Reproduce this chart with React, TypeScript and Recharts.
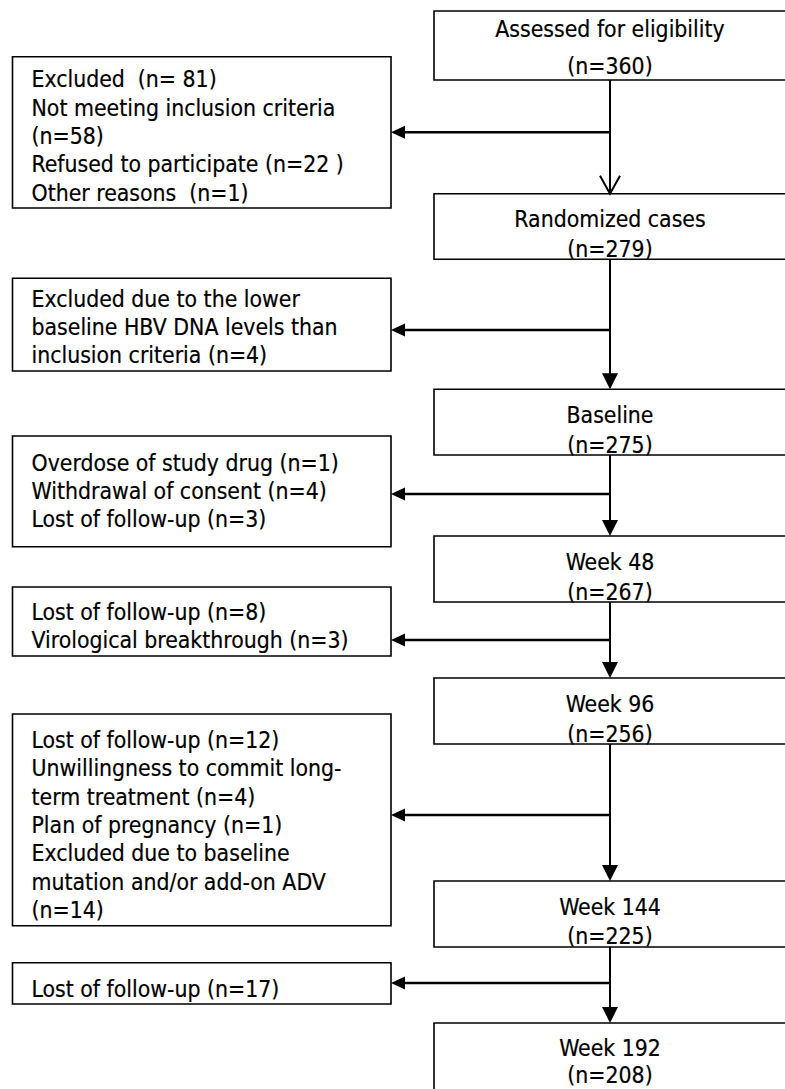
import React from 'react';
import { ComposedChart, XAxis, YAxis, ReferenceArea, ReferenceLine, Scatter } from 'recharts';

// ---------- data ----------
const stageNames = ['Assessed for eligibility', 'Randomized cases', 'Baseline', 'Week 48', 'Week 96', 'Week 144', 'Week 192'];
const stageCounts = [360, 279, 275, 267, 256, 225, 208];

const exclusionLines: string[][] = [
  ['Excluded  (n= 81)', 'Not meeting inclusion criteria', '(n=58)', 'Refused to participate (n=22 )', 'Other reasons  (n=1)'],
  ['Excluded due to the lower', 'baseline HBV DNA levels than', 'inclusion criteria (n=4)'],
  ['Overdose of study drug (n=1)', 'Withdrawal of consent (n=4)', 'Lost of follow-up (n=3)'],
  ['Lost of follow-up (n=8)', 'Virological breakthrough (n=3)'],
  ['Lost of follow-up (n=12)', 'Unwillingness to commit long-', 'term treatment (n=4)', 'Plan of pregnancy (n=1)', 'Excluded due to baseline', 'mutation and/or add-on ADV', '(n=14)'],
  ['Lost of follow-up (n=17)'],
];

// ---------- layout (page pixel units on the axes) ----------
const W = 785;
const H = 1089;
const STAGE_X1 = 434;
const STAGE_X2 = 800;
const FLOW_X = 610;
const STAGE_TEXT_X = 610;
const EXCL_X1 = 12.5;
const EXCL_X2 = 391;
const EXCL_TEXT_X = 31.5;
const LINE = 28.3;

const stageTop = [11, 193.7, 389.3, 536, 678, 881, 1023];
const stageBottom = [80, 259.3, 455, 602, 744, 947, 1110];
const stageBase1 = [37, 227, 423, 570, 712, 915, 1056];
const stageBase2 = [74, 256.5, 453, 600, 742, 944, 1083];

const exclTop = [56.7, 278.3, 436, 587, 714, 962.7];
const exclBottom = [208, 371, 546.7, 656, 925.7, 1004];
const exclBase1 = [87.3, 306.7, 470.7, 620, 748, 996.7];
const arrowY = [132.3, 330, 494, 640, 815, 983];

const FONT = "'DejaVu Sans Condensed', 'DejaVu Sans', sans-serif";
const FONT_SIZE = 22.8;

const textRows = [
  ...stageNames.flatMap((name, i) => [
    { x: STAGE_TEXT_X, y: stageBase1[i], text: name, anchor: 'middle' },
    { x: STAGE_TEXT_X, y: stageBase2[i], text: `(n=${stageCounts[i]})`, anchor: 'middle' },
  ]),
  ...exclusionLines.flatMap((lines, i) =>
    lines.map((t, j) => ({ x: EXCL_TEXT_X, y: exclBase1[i] + j * LINE, text: t, anchor: 'start' }))
  ),
];

const leftTips = arrowY.map((y) => ({ x: EXCL_X2, y, kind: 'left' }));
const downTips = stageTop.slice(1).map((y, i) => ({ x: FLOW_X, y, kind: i === 0 ? 'open' : 'down' }));
const tips = [...leftTips, ...downTips];

const TextShape = (props: any) => {
  const { cx, cy, payload } = props;
  return (
    <text
      x={cx}
      y={cy}
      textAnchor={payload.anchor}
      fontFamily={FONT}
      fontSize={FONT_SIZE}
      fill="#000"
      stroke="#000"
      strokeWidth={0.2}
      style={{ whiteSpace: 'pre' }}
    >
      {payload.text}
    </text>
  );
};

const TipShape = (props: any) => {
  const { cx, cy, payload } = props;
  if (payload.kind === 'left') {
    return <polygon points={`${cx},${cy} ${cx + 14},${cy - 6.5} ${cx + 14},${cy + 6.5}`} fill="#000" />;
  }
  if (payload.kind === 'open') {
    return (
      <polyline
        points={`${cx - 10},${cy - 18} ${cx},${cy} ${cx + 10},${cy - 18}`}
        fill="none"
        stroke="#000"
        strokeWidth={2}
      />
    );
  }
  return <polygon points={`${cx},${cy} ${cx - 8},${cy - 16} ${cx + 8},${cy - 16}`} fill="#000" />;
};

export default function App() {
  return (
    <div style={{ position: 'absolute', left: 0, top: 0, width: W, height: H, overflow: 'hidden', background: '#fff' }}>
      <ComposedChart width={W} height={H} margin={{ top: 0, right: 0, bottom: 0, left: 0 }}>
        <XAxis type="number" dataKey="x" domain={[0, W]} hide allowDataOverflow />
        <YAxis type="number" dataKey="y" domain={[0, H]} reversed hide allowDataOverflow />

        {stageNames.map((_, i) => (
          <ReferenceArea
            key={`s${i}`}
            x1={STAGE_X1}
            x2={STAGE_X2}
            y1={stageTop[i]}
            y2={stageBottom[i]}
            fill="none"
            stroke="#000"
            strokeWidth={1.6}
            ifOverflow="visible"
          />
        ))}
        {exclusionLines.map((_, i) => (
          <ReferenceArea
            key={`e${i}`}
            x1={EXCL_X1}
            x2={EXCL_X2}
            y1={exclTop[i]}
            y2={exclBottom[i]}
            fill="none"
            stroke="#000"
            strokeWidth={1.6}
            ifOverflow="visible"
          />
        ))}
        {stageNames.slice(1).map((_, i) => (
          <ReferenceLine
            key={`v${i}`}
            segment={[
              { x: FLOW_X, y: stageBottom[i] },
              { x: FLOW_X, y: stageTop[i + 1] - 2 },
            ]}
            stroke="#000"
            strokeWidth={2}
            ifOverflow="visible"
          />
        ))}
        {arrowY.map((y, i) => (
          <ReferenceLine
            key={`h${i}`}
            segment={[
              { x: FLOW_X, y },
              { x: EXCL_X2 + 10, y },
            ]}
            stroke="#000"
            strokeWidth={2.6}
            ifOverflow="visible"
          />
        ))}
        <Scatter data={tips} shape={TipShape} isAnimationActive={false} />
        <Scatter data={textRows} shape={TextShape} isAnimationActive={false} />
      </ComposedChart>
    </div>
  );
}
